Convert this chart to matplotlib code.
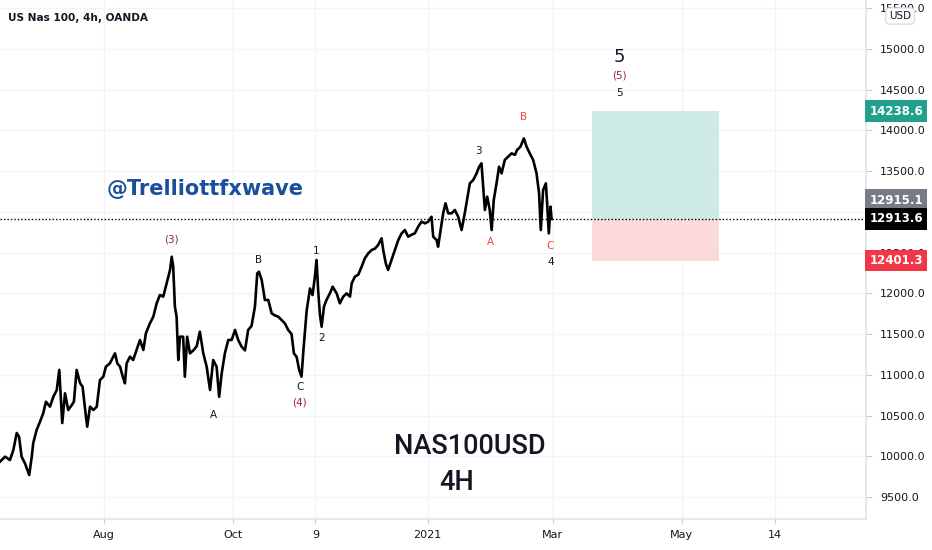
import matplotlib
matplotlib.use('Agg')
import matplotlib.pyplot as plt
import matplotlib.dates as mdates
import pandas as pd
from matplotlib.patches import Rectangle

START = pd.Timestamp('2020-06-13')

# price path: days since START and price
t_days = [0.0, 2.4, 4.7, 6.3, 7.9, 9.0, 10.2, 11.8, 13.8, 15.0, 15.7, 17.3, 18.9, 20.4, 21.7,
          23.6, 25.2, 26.8, 28.0, 28.8, 29.4, 30.7, 32.2, 33.9, 34.9, 36.2, 37.8, 39.0, 40.6,
          41.2, 42.5, 44.1, 45.7, 47.2, 48.8, 50.0, 51.9, 54.3, 55.4, 56.7, 58.2, 59.0, 59.8,
          61.4, 62.9, 64.5, 66.1, 67.7, 68.9, 70.8, 72.4, 74.0, 75.5, 77.1, 78.7, 80.3, 81.1,
          81.8, 82.6, 83.4, 84.2, 85.0, 86.5, 87.3, 88.4, 89.7, 91.3, 92.9, 94.4, 96.0, 97.6,
          99.2, 100.7, 102.3, 103.5, 104.7, 106.2, 107.8, 109.4, 111.0, 112.5, 114.1, 115.7,
          117.2, 118.8, 120.4, 121.5, 122.3, 123.6, 125.1, 126.7, 128.3, 129.8, 131.4, 133.0,
          134.6, 136.1, 137.7, 138.8, 140.1, 141.3, 142.4, 143.3, 144.8, 146.4, 147.6, 148.7,
          149.5, 150.3, 151.1, 151.9, 153.0, 154.2, 155.8, 157.1, 159.0, 160.5, 162.1, 163.7,
          165.3, 166.1, 167.6, 169.2, 170.8, 172.3, 173.9, 175.5, 177.1, 178.6, 180.2, 181.0,
          182.2, 183.3, 184.9, 186.5, 188.1, 189.7, 191.2, 192.8, 194.4, 195.9, 197.5, 199.1,
          200.7, 202.2, 203.8, 204.6, 206.2, 206.9, 208.1, 209.3, 210.4, 211.7, 213.3, 214.8,
          216.4, 218.0, 219.5, 221.1, 221.9, 223.5, 225.1, 226.3, 227.4, 228.2, 229.0, 230.1,
          231.3, 232.2, 233.2, 234.5, 235.7, 236.9, 238.4, 240.0, 241.6, 243.2, 244.2, 245.8,
          247.4, 248.7, 250.2, 251.8, 253.4, 254.6, 255.4, 256.5, 257.8, 258.4, 259.2, 260.0,
          260.5]
price = [9934, 9995, 9954, 10077, 10286, 10240, 9995, 9913, 9770, 9995, 10163, 10323, 10425,
         10527, 10670, 10609, 10731, 10814, 11060, 10691, 10408, 10773, 10568, 10629, 10670,
         11060, 10899, 10854, 10486, 10363, 10609, 10568, 10609, 10936, 10977, 11100, 11141,
         11264, 11141, 11100, 10957, 10896, 11141, 11223, 11182, 11305, 11428, 11305, 11510,
         11632, 11714, 11878, 11980, 11960, 12123, 12287, 12450, 12330, 11837, 11714, 11182,
         11468, 11468, 10977, 11468, 11264, 11300, 11350, 11530, 11264, 11100, 10814, 11182,
         11100, 10731, 11018, 11264, 11428, 11428, 11551, 11428, 11346, 11300, 11551, 11600,
         11837, 12246, 12266, 12164, 11919, 11919, 11755, 11730, 11714, 11673, 11630, 11551,
         11500, 11264, 11220, 11060, 10977, 11300, 11780, 12060, 11980, 12200, 12410, 12020,
         11740, 11591, 11837, 11919, 12000, 12082, 12000, 11878, 11960, 12000, 11960, 12123,
         12205, 12230, 12328, 12430, 12491, 12532, 12550, 12594, 12676, 12530, 12369, 12287,
         12410, 12532, 12655, 12737, 12778, 12696, 12720, 12737, 12819, 12880, 12860, 12880,
         12941, 12696, 12655, 12573, 12778, 12983, 13106, 12983, 12983, 13024, 12941, 12778,
         12983, 13228, 13351, 13392, 13474, 13555, 13597, 13310, 13024, 13187, 13024, 12778,
         13146, 13351, 13555, 13474, 13638, 13678, 13719, 13700, 13760, 13801, 13903, 13801,
         13719, 13638, 13474, 13228, 12778, 13269, 13351, 13106, 12737, 13065, 12914]

yticks = list(range(9500, 16000, 500))
xtick_dates = ['2020-08-01', '2020-10-01', '2020-11-09', '2021-01-01',
               '2021-03-01', '2021-05-01', '2021-06-14']
xtick_labels = ['Aug', 'Oct', '9', '2021', 'Mar', 'May', '14']

last_price = 12913.6
prev_close = 12915.1
target = 14238.6
stop = 12401.3
pos_start = '2021-03-19 12:00'
pos_end = '2021-05-18 12:00'

# elliott wave labels: text, days since START, price
waves_black = [('A', 101.0, 10507), ('B', 122.3, 12410), ('C', 141.6, 10850),
               ('1', 149.2, 12520), ('2', 152.0, 11452), ('3', 226.2, 13748),
               ('4', 260.2, 12385), ('5', 292.7, 14460)]
waves_red = [('A', 231.8, 12630), ('B', 247.4, 14165), ('C', 259.7, 12581)]
waves_purple = [('(3)', 81.2, 12667), ('(4)', 141.6, 10666), ('(5)', 292.7, 14669)]
big_wave = ('5', 292.7, 14902)


def day(d):
    return START + pd.Timedelta(days=d)


dates = [day(d) for d in t_days]

fig = plt.figure(figsize=(9.32, 5.5), dpi=100)
ax = fig.add_axes([0, 31 / 550, 866 / 932, 519 / 550])

grid_c = '#f0f3fa'
for y in yticks:
    ax.axhline(y, color=grid_c, lw=1, zorder=0)
for d in xtick_dates:
    ax.axvline(pd.Timestamp(d), color=grid_c, lw=1, zorder=0)

ax.plot(dates, price, color='black', lw=1.9, zorder=3)
ax.axhline(last_price, color='black', lw=1, ls=(0, (1, 1.5)), zorder=4)

x0 = mdates.date2num(pd.Timestamp(pos_start))
x1 = mdates.date2num(pd.Timestamp(pos_end))
ax.add_patch(Rectangle((x0, last_price), x1 - x0, target - last_price,
                       facecolor='#cdeae4', edgecolor='none', zorder=1))
ax.add_patch(Rectangle((x0, stop), x1 - x0, last_price - stop,
                       facecolor='#fcdada', edgecolor='none', zorder=1))

ax.set_xlim(START, day(409))
ax.set_ylim(9230, 15602)

ax.set_yticks(yticks)
ax.set_yticklabels(['%.1f' % v for v in yticks])
ax.yaxis.tick_right()
ax.tick_params(axis='y', length=4, color='#c8cbd3', labelsize=8, labelcolor='#131722', pad=6)
ax.set_xticks([pd.Timestamp(d) for d in xtick_dates])
ax.set_xticklabels(xtick_labels)
ax.tick_params(axis='x', length=3, color='#c8cbd3', labelsize=8, labelcolor='#131722', pad=5)

for s in ['top', 'left']:
    ax.spines[s].set_visible(False)
for s in ['right', 'bottom']:
    ax.spines[s].set_color('#e0e3eb')
    ax.spines[s].set_linewidth(1.2)

# price scale labels (the 12915.1 one sits just above the last price label)
trans = ax.get_yaxis_transform()
for val, bg in [(target, '#22a08b'), (prev_close, '#787b86'),
                (last_price, '#000000'), (stop, '#f23645')]:
    yy = val
    if val == prev_close:
        yy = val + 230
    ax.text(1.004, yy, '%.1f' % val, transform=trans, ha='left', va='center',
            fontsize=8.5, fontweight='bold', color='white', clip_on=False, zorder=10,
            bbox=dict(boxstyle='square,pad=0.35', facecolor=bg, edgecolor='none'))

fig.text(900 / 932, 1 - 16 / 550, 'USD', ha='center', va='center', fontsize=7.5,
         color='#131722', bbox=dict(boxstyle='round,pad=0.3', facecolor='white',
                                    edgecolor='#d1d4dc', lw=0.8))

for txt, d, p in waves_black:
    ax.text(day(d), p, txt, ha='center', va='center', fontsize=7.5, color='#131722', zorder=5)
for txt, d, p in waves_red:
    ax.text(day(d), p, txt, ha='center', va='center', fontsize=7.5, color='#f0463c', zorder=5)
for txt, d, p in waves_purple:
    ax.text(day(d), p, txt, ha='center', va='center', fontsize=7.5, color='#8e1f5a', zorder=5)
ax.text(day(big_wave[1]), big_wave[2], big_wave[0], ha='center', va='center',
        fontsize=13, color='#131722', zorder=5)

fig.text(8 / 932, 1 - 18 / 550, 'US Nas 100, 4h, OANDA', ha='left', va='center',
         fontsize=7.6, fontweight='bold', color='#131722')
fig.text(107 / 932, 1 - 189 / 550, '@Trelliottfxwave', ha='left', va='center',
         fontsize=15, fontweight='bold', color='#1b4f9c')
fig.text(470 / 932, 1 - 446 / 550, 'NAS100USD', ha='center', va='center',
         fontsize=19.5, fontweight='medium', color='#131722', family=['Roboto', 'DejaVu Sans'])
fig.text(457 / 932, 1 - 483 / 550, '4H', ha='center', va='center',
         fontsize=19.5, fontweight='medium', color='#131722', family=['Roboto', 'DejaVu Sans'])

fig.savefig('out.png', dpi=100)
